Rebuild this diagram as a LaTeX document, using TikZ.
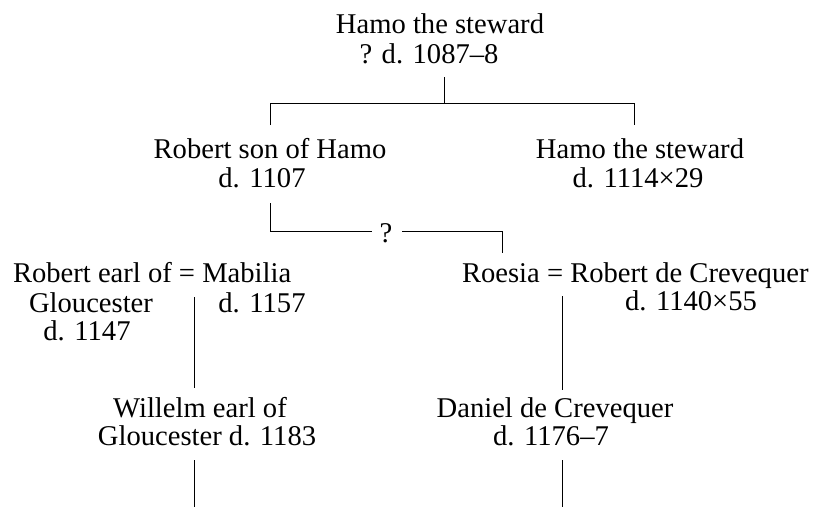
\documentclass[tikz,border=0pt]{standalone}
\usepackage{fontspec}
\setmainfont{Liberation Serif}
\begin{document}
\begin{tikzpicture}[x=1pt,y=-1pt,
  txt/.style={inner sep=0pt,outer sep=0pt,anchor=base,font=\fontsize{28.6}{30}\selectfont},
  txtw/.style={txt,anchor=base west},
  line/.style={draw=black,line width=0.9pt}]
\useasboundingbox (0,0) rectangle (813,507);

% generation 1
\node[txt] (hamoA) at (440,33) {Hamo the steward};
\node[txt] (hamoAd) at (429,63) {? d. 1087–8};

% generation 2
\node[txt] (robert) at (270,158) {Robert son of Hamo};
\node[txt] (robertd) at (262,187) {d. 1107};
\node[txt] (hamoB) at (640,158) {Hamo the steward};
\node[txt] (hamoBd) at (638,187) {d. 1114×29};

% generation 3
\node[txtw] (glouc) at (13,282) {Robert earl of = Mabilia};
\node[txt] (glouc2) at (91,312) {Gloucester};
\node[txt] (glouc3) at (87,340) {d. 1147};
\node[txt] (mabd) at (262,312) {d. 1157};
\node[txtw] (roesia) at (462,282) {Roesia = Robert de Crevequer};
\node[txt] (crevd) at (691,310) {d. 1140×55};

% generation 4
\node[txt] (will) at (200,417) {Willelm earl of};
\node[txt] (will2) at (207,445) {Gloucester d. 1183};
\node[txt] (dan) at (555,417) {Daniel de Crevequer};
\node[txt] (dan2) at (551,445) {d. 1176–7};

% uncertain link
\node[txt] (q) at (386,242) {?};

% junction points
\coordinate (a0) at (444,77);
\coordinate (a1) at (444,103);
\coordinate (aL) at (270,103);
\coordinate (aR) at (634,103);
\coordinate (aLd) at (270,125);
\coordinate (aRd) at (634,125);

\coordinate (b0) at (270,203);
\coordinate (b1) at (270,231);
\coordinate (bq1) at (372,231);
\coordinate (bq2) at (402,231);
\coordinate (b2) at (502,231);
\coordinate (b3) at (502,253);

\coordinate (c0) at (194,297);
\coordinate (c1) at (194,388);
\coordinate (d0) at (562,296);
\coordinate (d1) at (562,390);

\coordinate (e0) at (194,460);
\coordinate (e1) at (194,507);
\coordinate (f0) at (562,460);
\coordinate (f1) at (562,507);

% connectors
\draw[line] (a0) -- (a1);
\draw[line] (aLd) -- (aL) -- (aR) -- (aRd);
\draw[line] (b0) -- (b1) -- (bq1);
\draw[line] (bq2) -- (b2) -- (b3);
\draw[line] (c0) -- (c1);
\draw[line] (d0) -- (d1);
\draw[line] (e0) -- (e1);
\draw[line] (f0) -- (f1);
\end{tikzpicture}
\end{document}
